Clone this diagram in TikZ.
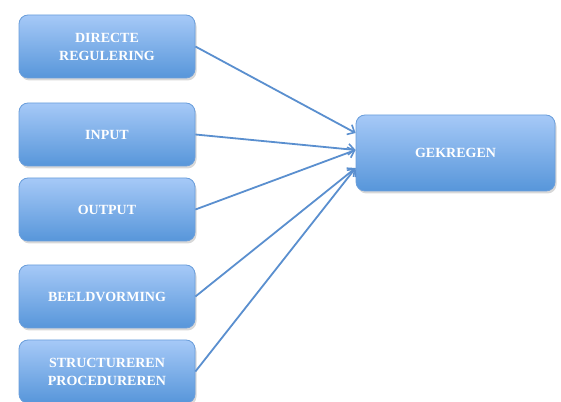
\documentclass[tikz,border=0pt]{standalone}
\usepackage{fontspec}
\setmainfont{Liberation Serif}
\usetikzlibrary{arrows.meta,shadows,positioning}
\definecolor{boxtop}{HTML}{A6C9F7}
\definecolor{boxbot}{HTML}{5796DA}
\definecolor{boxedge}{HTML}{6A9EDB}
\definecolor{linkcol}{HTML}{5A8FCF}
\tikzset{
  stage/.style={draw=boxedge, line width=0.8pt, rounded corners=9pt,
    top color=boxtop, bottom color=boxbot,
    minimum width=176pt, minimum height=63pt,
    align=center, text=white, font=\bfseries\fontsize{14}{18}\selectfont,
    drop shadow={shadow xshift=1.5pt, shadow yshift=-2.5pt, opacity=0.25, fill=black!60}},
  link/.style={draw=linkcol, line width=1.8pt,
    -{Straight Barb[length=6pt,width=11pt,line width=1.6pt]}}
}
\begin{document}
\begin{tikzpicture}[x=1pt,y=1pt]
\useasboundingbox (0,0) rectangle (561,401);
\fill[white] (0,0) rectangle (561,401);
\begin{scope}
\clip (0,0) rectangle (561,401);
\node[stage] (dr) at (107,354.5) {DIRECTE\\REGULERING};
\node[stage] (in) at (107,266.5) {INPUT};
\node[stage] (out) at (107,191.5) {OUTPUT};
\node[stage] (bv) at (107,104.5) {BEELDVORMING};
\node[stage] (sp) at (107,29.5) {STRUCTUREREN\\PROCEDUREREN};
\node[stage, minimum width=199pt, minimum height=76pt] (gk) at (455.5,248) {GEKREGEN};
\draw[link] (dr.east) -- ([yshift=20pt]gk.west);
\draw[link] (in.east) -- ([yshift=3pt]gk.west);
\draw[link] (out.east) -- ([yshift=3pt]gk.west);
\draw[link] (bv.east) -- ([yshift=-15pt]gk.west);
\draw[link] (sp.east) -- ([yshift=-15pt]gk.west);
\end{scope}
\end{tikzpicture}
\end{document}
